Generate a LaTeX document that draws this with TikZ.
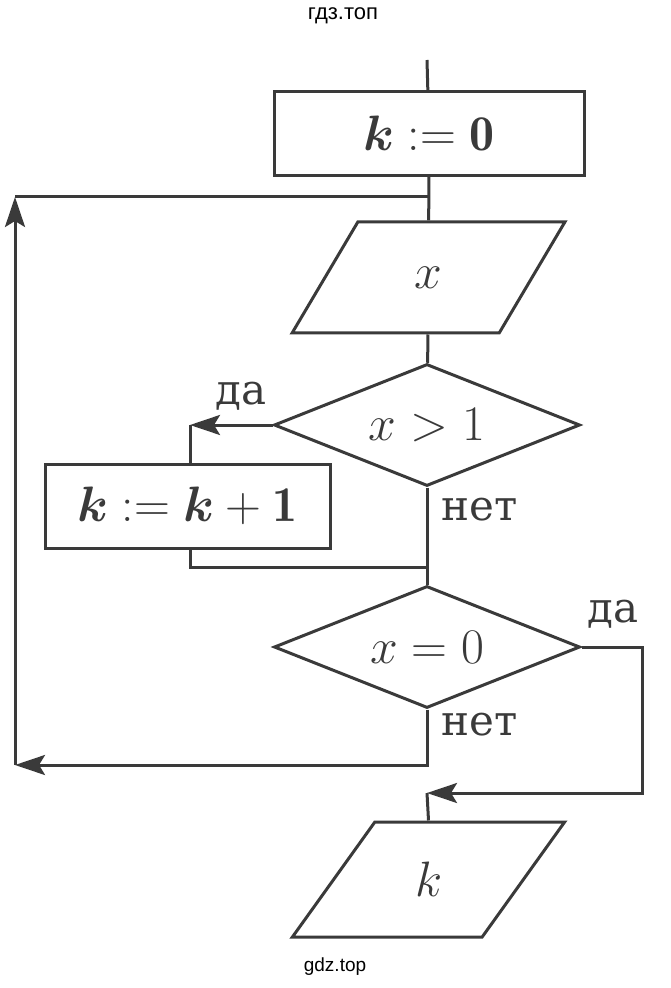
\documentclass[tikz,border=0pt]{standalone}
\usepackage{amsmath}
\usepackage{fontspec}
\usepackage{tikz}
\usetikzlibrary{shapes.geometric,arrows.meta}
\newfontfamily\cyrserif{DejaVu Serif}
\newfontfamily\sitesans{Liberation Sans}
\definecolor{ink}{HTML}{3A3A3A}

\begin{document}
\begin{tikzpicture} [x=0.5pt, y=-0.5pt, line width=1.5pt, draw=ink, text=ink,
	block/.style={draw, shape=rectangle, minimum width=#1, minimum height=42pt, inner sep=0pt,
		font=\fontsize{25}{29}\selectfont},
	io/.style={draw, shape=trapezium, trapezium left angle=59, trapezium right angle=121,
		trapezium stretches=true, minimum width=136.5pt, minimum height=#1, inner sep=0pt,
		font=\fontsize{25}{29}\selectfont},
	cond/.style={draw, shape=diamond, aspect=2.5, minimum width=153pt, minimum height=61pt,
		inner sep=0pt, font=\fontsize{25}{29}\selectfont},
	lbl/.style={inner sep=0pt},
	arr/.style={-{Stealth[length=15pt, width=10pt, inset=3pt]}}]
		\useasboundingbox (0, 0) rectangle (670, 988);
		\node [text=black] (head) at (343, 16) {\sitesans\fontsize{11}{13}\selectfont гдз.топ};
		\node [text=black] (foot) at (335, 967) {\sitesans\fontsize{9.5}{11}\selectfont gdz.top};
		% blocks
		\node [block=155pt] (init) at (429, 133.5) {$\boldsymbol{k} \mathrel{\mathbf{:=}} \mathbf{0}$};
		\node [io=55.5pt] (inx) at (428.5, 277.5) {$x$};
		\node [cond] (c1) at (427, 425) {$x > 1$};
		\node [block=142.5pt] (inc) at (187.5, 506) {$\boldsymbol{k} \mathrel{\mathbf{:=}} \boldsymbol{k} \mathbin{\mathbf{+}} \mathbf{1}$};
		\node [cond] (c2) at (427, 647) {$x = 0$};
		\node [io=57.5pt] (out) at (428.5, 879.5) {$k$};
		% free ends
		\coordinate (start) at (427, 60);
		\coordinate (loop) at (15, 197);
		\coordinate (back) at (15, 765);
		\coordinate (join) at (427, 567);
		\coordinate (yes1) at (190, 425);
		\coordinate (turn) at (642, 793);
		\coordinate (merge) at (427, 793);
		% connectors
		\draw (start) -- (init);
		\draw (init) -- (inx);
		\draw (inx) -- (c1);
		\draw [arr] (c1.west) -- (yes1);
			\draw (yes1) -- (yes1 |- inc.north);
			\draw (yes1 |- inc.south) |- (join);
		\draw (c1.south) -- (c2.north);
		\draw [arr] (c2.east) -| (turn) -- (merge);
			\draw (merge) -- (out.north);
		\draw [arr] (c2.south) |- (back);
		\draw [arr] (back) -- (loop);
			\draw (loop) -- (loop -| init.south);
		% labels
		\node [lbl] (da1) at (241, 396) {\cyrserif\fontsize{21}{24}\selectfont да};
		\node [lbl] (net1) at (480, 510) {\cyrserif\fontsize{21}{24}\selectfont нет};
		\node [lbl] (da2) at (613, 614) {\cyrserif\fontsize{21}{24}\selectfont да};
		\node [lbl] (net2) at (480, 725) {\cyrserif\fontsize{21}{24}\selectfont нет};
\end{tikzpicture}
\end{document}
